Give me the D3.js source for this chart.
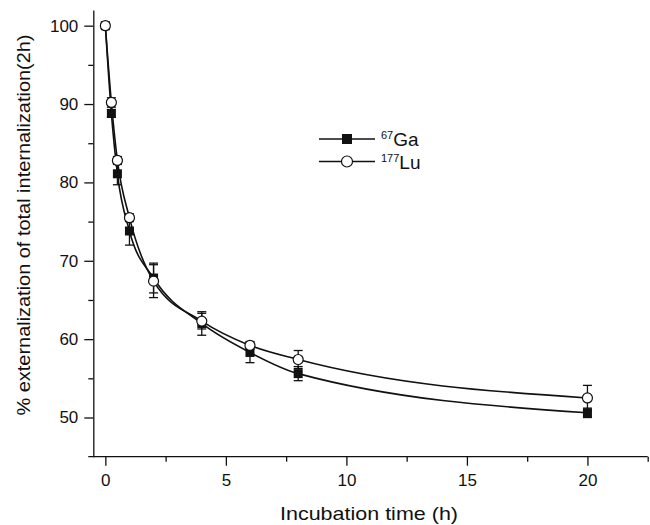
<!DOCTYPE html>
<html>
  <head>
    <meta charset="utf-8" />
    <script src="https://d3js.org/d3.v7.min.js"></script>
    <style>
      body { margin: 0; background: #fff; }
      text { font-family: "Liberation Sans", Arial, sans-serif; fill: #111; }
      .axis path, .axis line { stroke: #111; stroke-width: 1.3px; }
      .curve { fill: none; stroke: #111; stroke-width: 1.6px; }
      .err { stroke: #111; stroke-width: 1.3px; }
    </style>
  </head>
  <body>

    <svg id="chart" width="650" height="525"></svg>

    <script>

      // incubation time (h)
      var times = [0, 0.25, 0.5, 1, 2, 4, 6, 8, 20];

      // 67Ga series
      var gaValues = [100, 88.8, 81.1, 73.8, 67.8, 62.0, 58.3, 55.6, 50.6];
      var gaErrors = [0.3, 0.5, 1.4, 1.8, 1.9, 1.5, 1.3, 0.9, 0.6];

      // 177Lu series
      var luValues = [100, 90.2, 82.8, 75.5, 67.4, 62.3, 59.2, 57.4, 52.5];
      var luErrors = [0.3, 0.6, 0.5, 0.5, 2.1, 1.0, 0.5, 1.15, 1.6];

      var xTicks = [0, 5, 10, 15, 20];
      var yTicks = [50, 60, 70, 80, 90, 100];

      var svg = d3.select("#chart");

      var x = d3.scaleLinear().domain([-0.5, 22.5]).range([93.3, 647.7]);
      var y = d3.scaleLinear().domain([45, 102]).range([456.7, 10]);

      // minor ticks
      var xMinor = d3.range(2.5, 22.6, 5);
      var yMinor = d3.range(55, 100, 10);

      svg.append("g")
        .attr("class", "axis")
        .attr("transform", "translate(0," + y(45) + ")")
        .call(d3.axisBottom(x).tickValues(xMinor).tickSize(5).tickFormat(""))
        .call(function(g) { g.select(".domain").remove(); });

      var xAxis = svg.append("g")
        .attr("class", "axis")
        .attr("transform", "translate(0," + y(45) + ")")
        .call(d3.axisBottom(x).tickValues(xTicks).tickSize(9).tickPadding(8));
      xAxis.select(".domain").remove();
      xAxis.selectAll("text").attr("font-size", 17).attr("fill", "#111")
        .attr("font-family", "Liberation Sans, Arial, sans-serif");

      svg.append("line")
        .attr("x1", x.range()[0] - 5).attr("x2", x.range()[1])
        .attr("y1", y(45)).attr("y2", y(45))
        .attr("stroke", "#111").attr("stroke-width", 1.3);

      svg.append("g")
        .attr("class", "axis")
        .attr("transform", "translate(" + x(-0.5) + ",0)")
        .call(d3.axisLeft(y).tickValues(yMinor).tickSize(5).tickFormat(""))
        .call(function(g) { g.select(".domain").remove(); });

      var yAxis = svg.append("g")
        .attr("class", "axis")
        .attr("transform", "translate(" + x(-0.5) + ",0)")
        .call(d3.axisLeft(y).tickValues(yTicks).tickSize(9).tickPadding(6).tickSizeOuter(0));
      yAxis.selectAll("text").attr("font-size", 17).attr("fill", "#111")
        .attr("font-family", "Liberation Sans, Arial, sans-serif");

      // axis titles
      svg.append("text")
        .attr("x", 369).attr("y", 520)
        .attr("text-anchor", "middle")
        .attr("font-size", 19)
        .attr("textLength", 178)
        .attr("lengthAdjust", "spacingAndGlyphs")
        .text("Incubation time (h)");

      svg.append("text")
        .attr("transform", "translate(30,225) rotate(-90)")
        .attr("text-anchor", "middle")
        .attr("font-size", 19)
        .attr("textLength", 381)
        .attr("lengthAdjust", "spacingAndGlyphs")
        .text("% externalization of total internalization(2h)");

      var series = [
        { name: "Ga", mass: "67", values: gaValues, errors: gaErrors, filled: true },
        { name: "Lu", mass: "177", values: luValues, errors: luErrors, filled: false }
      ];

      var line = d3.line()
        .x(function(d) { return x(d.t); })
        .y(function(d) { return y(d.v); })
        .curve(d3.curveMonotoneX);

      series.forEach(function(s) {
        var pts = times.map(function(t, i) {
          return { t: t, v: s.values[i], e: s.errors[i] };
        });

        svg.append("path")
          .datum(pts)
          .attr("class", "curve")
          .attr("d", line);

        var eb = svg.append("g").selectAll("g")
          .data(pts)
          .enter().append("g")
          .attr("class", "err");

        eb.append("line")
          .attr("x1", function(d) { return x(d.t); })
          .attr("x2", function(d) { return x(d.t); })
          .attr("y1", function(d) { return y(d.v - d.e); })
          .attr("y2", function(d) { return y(d.v + d.e); });
        [-1, 1].forEach(function(sign) {
          eb.append("line")
            .attr("x1", function(d) { return x(d.t) - 4.5; })
            .attr("x2", function(d) { return x(d.t) + 4.5; })
            .attr("y1", function(d) { return y(d.v + sign * d.e); })
            .attr("y2", function(d) { return y(d.v + sign * d.e); });
        });
      });

      // markers drawn after all lines
      series.forEach(function(s) {
        var pts = times.map(function(t, i) { return { t: t, v: s.values[i] }; });
        if (s.filled) {
          svg.append("g").selectAll("rect")
            .data(pts)
            .enter().append("rect")
            .attr("x", function(d) { return x(d.t) - 4.5; })
            .attr("y", function(d) { return y(d.v) - 4.5; })
            .attr("width", 9).attr("height", 9)
            .attr("fill", "#111");
        } else {
          svg.append("g").selectAll("circle")
            .data(pts)
            .enter().append("circle")
            .attr("cx", function(d) { return x(d.t); })
            .attr("cy", function(d) { return y(d.v); })
            .attr("r", 5)
            .attr("fill", "#fff")
            .attr("stroke", "#111")
            .attr("stroke-width", 1.2);
        }
      });

      // legend
      var legend = svg.append("g").selectAll("g")
        .data(series)
        .enter().append("g")
        .attr("transform", function(d, i) { return "translate(319," + (139 + i * 22.5) + ")"; });

      legend.append("line")
        .attr("x1", 0).attr("x2", 56)
        .attr("stroke", "#111").attr("stroke-width", 1.5);

      legend.each(function(d) {
        var g = d3.select(this);
        if (d.filled) {
          g.append("rect").attr("x", 23).attr("y", -5).attr("width", 10).attr("height", 10).attr("fill", "#111");
        } else {
          g.append("circle").attr("cx", 28).attr("cy", 0).attr("r", 5.5)
            .attr("fill", "#fff").attr("stroke", "#111").attr("stroke-width", 1.2);
        }
      });

      var lt = legend.append("text")
        .attr("x", 62).attr("y", 7)
        .attr("font-size", 19);
      lt.append("tspan")
        .attr("font-size", 11)
        .attr("dy", -7)
        .text(function(d) { return d.mass; });
      lt.append("tspan")
        .attr("dy", 7)
        .text(function(d) { return d.name; });

    </script>

  </body>
</html>
